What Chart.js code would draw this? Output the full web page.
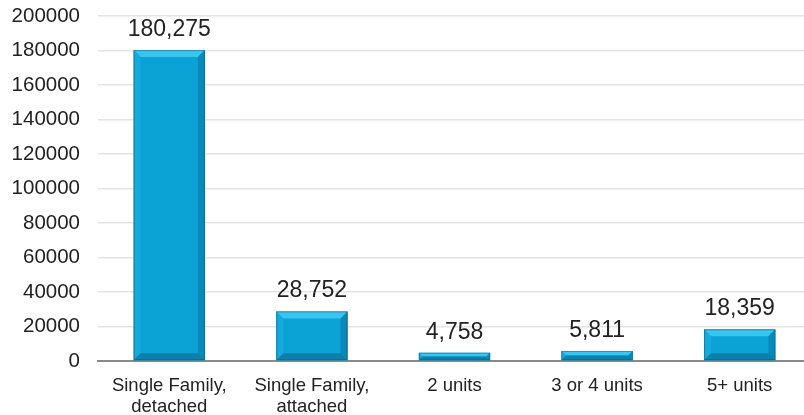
<!DOCTYPE html>
<html>
<head>
<meta charset="utf-8">
<script src="https://cdn.jsdelivr.net/npm/chart.js@4"></script>
<style>
  html, body { margin: 0; padding: 0; background: #fff; overflow: hidden; }
  #wrap { width: 812px; height: 415px; }
</style>
</head>
<body>
<div id="wrap"><canvas id="myChart"></canvas></div>
<script>
const categories = [['Single Family,', 'detached'], ['Single Family,', 'attached'], '2 units', '3 or 4 units', '5+ units'];
const units = [180275, 28752, 4758, 5811, 18359];
const yTicks = [0, 20000, 40000, 60000, 80000, 100000, 120000, 140000, 160000, 180000, 200000];

// beveled look + value labels on top of each bar
const bevelBars = {
  id: 'bevelBars',
  afterDatasetsDraw(chart) {
    const ctx = chart.ctx;
    const meta = chart.getDatasetMeta(0);
    meta.data.forEach((bar, i) => {
      const l = bar.x - bar.width / 2, r = bar.x + bar.width / 2;
      const t = bar.y, b = bar.base;
      const s = Math.min(7, (b - t) / 2);
      ctx.save();
      const face = (pts, color) => {
        ctx.beginPath();
        ctx.moveTo(pts[0][0], pts[0][1]);
        for (let k = 1; k < pts.length; k++) ctx.lineTo(pts[k][0], pts[k][1]);
        ctx.closePath();
        ctx.fillStyle = color;
        ctx.fill();
      };
      face([[l, t], [r, t], [r - s, t + s], [l + s, t + s]], '#38c6f0');
      face([[l, t], [l + s, t + s], [l + s, b - s], [l, b]], '#14aadd');
      face([[r, t], [r, b], [r - s, b - s], [r - s, t + s]], '#0a8aba');
      face([[l, b], [l + s, b - s], [r - s, b - s], [r, b]], '#0a80ab');
      ctx.strokeStyle = 'rgba(20,80,105,0.45)';
      ctx.lineWidth = 1;
      ctx.strokeRect(l + 0.5, t + 0.5, bar.width - 1, b - t - 1);

      ctx.fillStyle = '#222';
      ctx.font = '23px "Liberation Sans", Arial, sans-serif';
      ctx.textAlign = 'center';
      ctx.textBaseline = 'alphabetic';
      ctx.fillText(units[i].toLocaleString('en-US'), bar.x, t - 14);
      ctx.restore();
    });
  }
};

const ctx = document.getElementById('myChart').getContext('2d');
new Chart(ctx, {
  type: 'bar',
  data: {
    labels: categories,
    datasets: [{
      data: units,
      backgroundColor: '#0ba2d5',
      borderWidth: 0,
      barPercentage: 0.5,
      categoryPercentage: 1
    }]
  },
  options: {
    responsive: true,
    maintainAspectRatio: false,
    animation: false,
    layout: { padding: { top: 16, right: 1, left: 0, bottom: 0 } },
    plugins: {
      legend: { display: false },
      tooltip: { enabled: false }
    },
    scales: {
      x: {
        grid: { display: false },
        border: { display: true, color: '#8a8a8a', width: 2 },
        ticks: {
          color: '#222',
          font: { family: '"Liberation Sans", Arial, sans-serif', size: 18.5, lineHeight: 1.15 },
          padding: 6,
          maxRotation: 0,
          autoSkip: false
        },
        afterFit(scale) { scale.height = 54; }
      },
      y: {
        min: 0,
        max: 200000,
        afterBuildTicks(scale) { scale.ticks = yTicks.map(v => ({ value: v })); },
        grid: { color: '#e4e4e4', lineWidth: 1.5, drawTicks: false },
        border: { display: false },
        ticks: {
          color: '#222',
          font: { family: '"Liberation Sans", Arial, sans-serif', size: 20.5 },
          padding: 18,
          callback: v => String(v)
        },
        afterFit(scale) {
          scale.width = 98;
          scale.paddingTop = 0;
          scale.paddingBottom = 0;
        }
      }
    }
  },
  plugins: [bevelBars]
});
</script>
</body>
</html>
